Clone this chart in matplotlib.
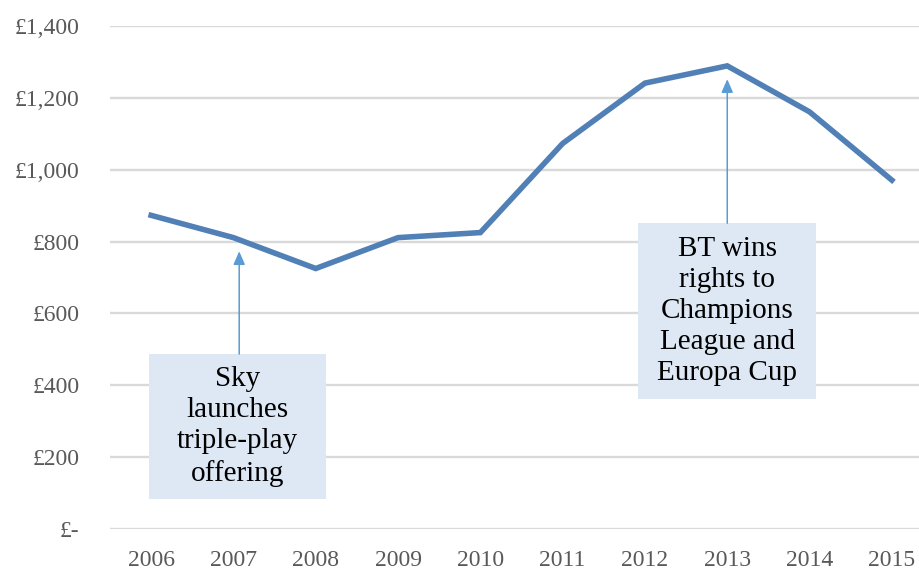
import matplotlib
matplotlib.use('Agg')
import matplotlib.pyplot as plt
from matplotlib.patches import Rectangle

years = [2006, 2007, 2008, 2009, 2010, 2011, 2012, 2013, 2014, 2015]
values = [873, 811, 725, 811, 825, 1073, 1241, 1289, 1161, 971]
yticks = [0, 200, 400, 600, 800, 1000, 1200, 1400]
ytick_labels = ['£-', '£200', '£400', '£600', '£800', '£1,000', '£1,200', '£1,400']

note_sky = 'Sky\nlaunches\ntriple-play\noffering'
note_bt = 'BT wins\nrights to\nChampions\nLeague and\nEuropa Cup'

plt.rcParams['font.family'] = ['Liberation Serif', 'DejaVu Serif']

fig = plt.figure(figsize=(9.2, 5.71), dpi=100)
ax = fig.add_axes([110/920, 42/571, 823/920, 503/571])

ax.plot(years, values, color='#5080B6', lw=4.0, solid_joinstyle='miter', zorder=3)

ax.set_xlim(2005.5, 2015.5)
ax.set_ylim(0, 1400)
ax.set_xticks(years)
ax.set_xticklabels([str(y) for y in years])
ax.set_yticks(yticks)
ax.set_yticklabels(ytick_labels)
ax.tick_params(length=0, labelsize=17, colors='#595959')
ax.tick_params(axis='y', pad=22)
ax.tick_params(axis='x', pad=15)
ax.grid(axis='y', color='#D9D9D9', lw=1.7)
ax.set_axisbelow(True)
for s in ax.spines.values():
    s.set_visible(False)

box_color = '#DDE8F4'
arrow_color = '#5B9BD5'
arrow_style = '-|>,head_length=0.8,head_width=0.35'

# Sky annotation
ax.add_patch(Rectangle((2005.97, 83), 2.16, 404, color=box_color, zorder=4, lw=0))
ax.text(2007.05, 285, note_sky, ha='center', va='center', fontsize=21,
        linespacing=1.25, zorder=5)
ax.annotate('', xy=(2007.07, 773), xytext=(2007.07, 487),
            arrowprops=dict(arrowstyle=arrow_style, color=arrow_color, lw=1.1,
                            shrinkA=0, shrinkB=0),
            zorder=4)

# BT annotation
ax.add_patch(Rectangle((2011.92, 362), 2.16, 489, color=box_color, zorder=4, lw=0))
ax.text(2013.0, 606, note_bt, ha='center', va='center', fontsize=21,
        linespacing=1.25, zorder=5)
ax.annotate('', xy=(2013.0, 1252), xytext=(2013.0, 851),
            arrowprops=dict(arrowstyle=arrow_style, color=arrow_color, lw=1.1,
                            shrinkA=0, shrinkB=0),
            zorder=4)

fig.savefig('out.png', dpi=100)
